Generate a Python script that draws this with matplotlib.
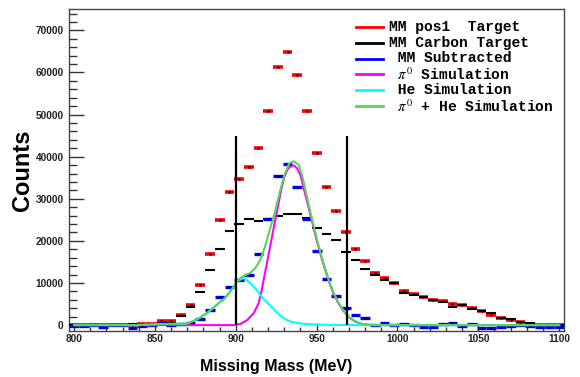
import numpy as np
import matplotlib
matplotlib.use('Agg')
import matplotlib.pyplot as plt
from matplotlib.lines import Line2D
from matplotlib.ticker import MultipleLocator

plt.rcParams['mathtext.fontset'] = 'stix'

# 直方图: 51 个 bin, 宽 6 MeV, 中心 800..1100
bin_centers = np.arange(800, 1101, 6)
bin_half = 3.0

pos1_counts = [100, 0, 100, 0, 100, 100, 0, 200, 300, 900,
               900, 2300, 4750, 9500, 17000, 24900, 31500, 34700, 37500, 42000,
               50800, 61400, 64900, 59500, 50800, 40900, 32800, 27200, 22000, 18000,
               15300, 12400, 11200, 10000, 8200, 7500, 6600, 5900, 5700, 5100,
               4750, 4100, 3250, 2400, 1700, 1250, 700, 300, 100, 0, 0]
carbon_counts = [0, 0, 0, 0, 0, 100, 200, 100, 200, 600,
                 600, 2100, 4200, 7900, 13200, 18100, 22300, 23900, 25300, 24800,
                 25200, 25800, 26400, 26400, 25500, 23100, 21700, 20200, 17400, 15400,
                 13400, 12000, 10700, 9900, 7700, 7200, 6600, 5900, 5400, 4400,
                 4750, 3900, 3250, 2900, 1700, 1350, 700, 450, 100, 0, 0]
sub_counts = [-200, -300, 0, -500, 0, 0, -700, -200, 0, 400,
              0, 200, 400, 1350, 3550, 6600, 9000, 10600, 11800, 16800,
              25300, 35400, 38200, 32800, 25100, 17600, 10900, 6900, 4100, 2400,
              1800, 0, 400, 0, 300, 0, -400, -400, 200, 600,
              -200, 300, -600, -600, -400, -200, 0, -300, -400, -400, -400]

# 模拟曲线
pi0_x = [800, 895, 899, 903, 907, 911, 914, 916, 918, 920, 922, 924, 926, 928,
         930, 932, 934, 936, 938, 940, 942, 944, 946, 948, 950, 952, 954, 956,
         958, 960, 963, 966, 970, 974, 978, 985, 1100]
pi0_y = [0, 0, 0, 300, 1200, 2800, 5100, 8300, 12300, 16200, 20200, 24200, 28100, 32100,
         35200, 37000, 37700, 37900, 37200, 35600, 32500, 29500, 26400, 23300, 20200, 17400, 14700, 12300,
         9900, 7900, 5500, 3700, 1800, 800, 250, 0, 0]

he_x = [800, 840, 850, 860, 866, 870, 876, 882, 888, 893, 898, 901, 905, 909,
        913, 916, 919, 923, 927, 931, 935, 940, 946, 955, 965, 975, 1100]
he_y = [0, 0, 200, 300, 300, 400, 1350, 2800, 4750, 6300, 8700, 10500, 11200, 10000,
        8300, 6700, 5500, 4000, 2400, 1300, 700, 400, 170, 80, 50, 0, 0]

sum_x = [800, 840, 850, 860, 866, 870, 876, 882, 888, 893, 898, 901, 905, 909,
         912, 915, 918, 921, 924, 927, 930, 933, 936, 939, 941, 943, 946, 948,
         950, 952, 954, 956, 958, 960, 963, 966, 970, 974, 978, 983, 990, 1100]
sum_y = [0, 0, 200, 300, 300, 400, 1350, 2800, 4750, 6300, 8700, 10700, 11700, 12400,
         13500, 15400, 18600, 22600, 26500, 31300, 35600, 38400, 38900, 38000, 35600, 32200, 27000, 23800,
         20600, 17700, 15000, 12500, 10100, 8100, 5700, 3800, 1900, 900, 300, 0, 0, 0]

cut_lo, cut_hi, cut_top = 900, 969, 45000

legend_labels = ['MM pos1  Target', 'MM Carbon Target', ' MM Subtracted',
                 r' $\pi^0$ Simulation', ' He Simulation', r' $\pi^0$ + He Simulation']
legend_colors = ['#ff0000', '#000000', '#0000ff', '#ff00ff', '#00ffff', '#55d655']

W, H = 580, 377
fig = plt.figure(figsize=(W / 100, H / 100), dpi=100)
ax = fig.add_axes([69.3 / W, 46 / H, 494.7 / W, 321.7 / H])

# 数据点 (x 方向误差棒 = bin 宽度)
ax.errorbar(bin_centers, pos1_counts, xerr=bin_half, fmt='.', color='#ff0000', ecolor='#ff0000',
            elinewidth=2.6, markersize=1.5, mec='k', mfc='k', capsize=0, zorder=3)
ax.errorbar(bin_centers, carbon_counts, xerr=bin_half, fmt='none', ecolor='#000000',
            elinewidth=1.5, capsize=0, zorder=4)
ax.errorbar(bin_centers, sub_counts, xerr=bin_half, fmt='.', color='#0000ff', ecolor='#0000ff',
            elinewidth=2.4, markersize=1.2, mec='k', mfc='k', capsize=0, zorder=5)

ax.plot(pi0_x, pi0_y, color=legend_colors[3], lw=1.5, zorder=6)
ax.plot(he_x, he_y, color=legend_colors[4], lw=1.5, zorder=6)
ax.plot(sum_x, sum_y, color=legend_colors[5], lw=1.5, zorder=7)

# 质量窗口
ax.vlines([cut_lo, cut_hi], 0, cut_top, colors='k', lw=1.6, zorder=8)

ax.set_xlim(797, 1103)
ax.set_ylim(-1400, 75000)
ax.xaxis.set_major_locator(MultipleLocator(50))
ax.xaxis.set_minor_locator(MultipleLocator(10))
ax.yaxis.set_major_locator(MultipleLocator(10000))
ax.yaxis.set_minor_locator(MultipleLocator(2000))
ax.tick_params(axis='both', which='both', direction='in', top=False, right=False, colors='#333333')
ax.tick_params(axis='y', which='major', length=11, width=1.0, pad=4)
ax.tick_params(axis='y', which='minor', length=6, width=1.0)
ax.tick_params(axis='x', which='major', length=6, width=1.0, pad=2)
ax.tick_params(axis='x', which='minor', length=3, width=1.0)
for lab in ax.get_xticklabels() + ax.get_yticklabels():
    lab.set_fontfamily('Liberation Sans')
    lab.set_fontweight('bold')
    lab.set_fontsize(7.3)
    lab.set_color('#222222')
for sp in ax.spines.values():
    sp.set_color('#444444')
    sp.set_linewidth(1.0)

fig.text(22 / W, 1 - 170 / H, 'Counts', rotation=90, ha='center', va='center',
         family='Liberation Sans', weight='bold', fontsize=17)
fig.text(276.5 / W, 1 - 367 / H, 'Missing Mass (MeV)', ha='center', va='center',
         family='Liberation Sans', weight='bold', fontsize=11.5)

# 图例
for i, (lab, col) in enumerate(zip(legend_labels, legend_colors)):
    yy = 1 - (26.7 + 15.9 * i) / H
    fig.add_artist(Line2D([356 / W, 383 / W], [yy, yy], color=col, lw=2.0,
                          transform=fig.transFigure))
    fig.text(389 / W, yy, lab, ha='left', va='center', family='Liberation Mono',
             weight='bold', fontsize=10.5)

fig.savefig('out.png', dpi=100)
